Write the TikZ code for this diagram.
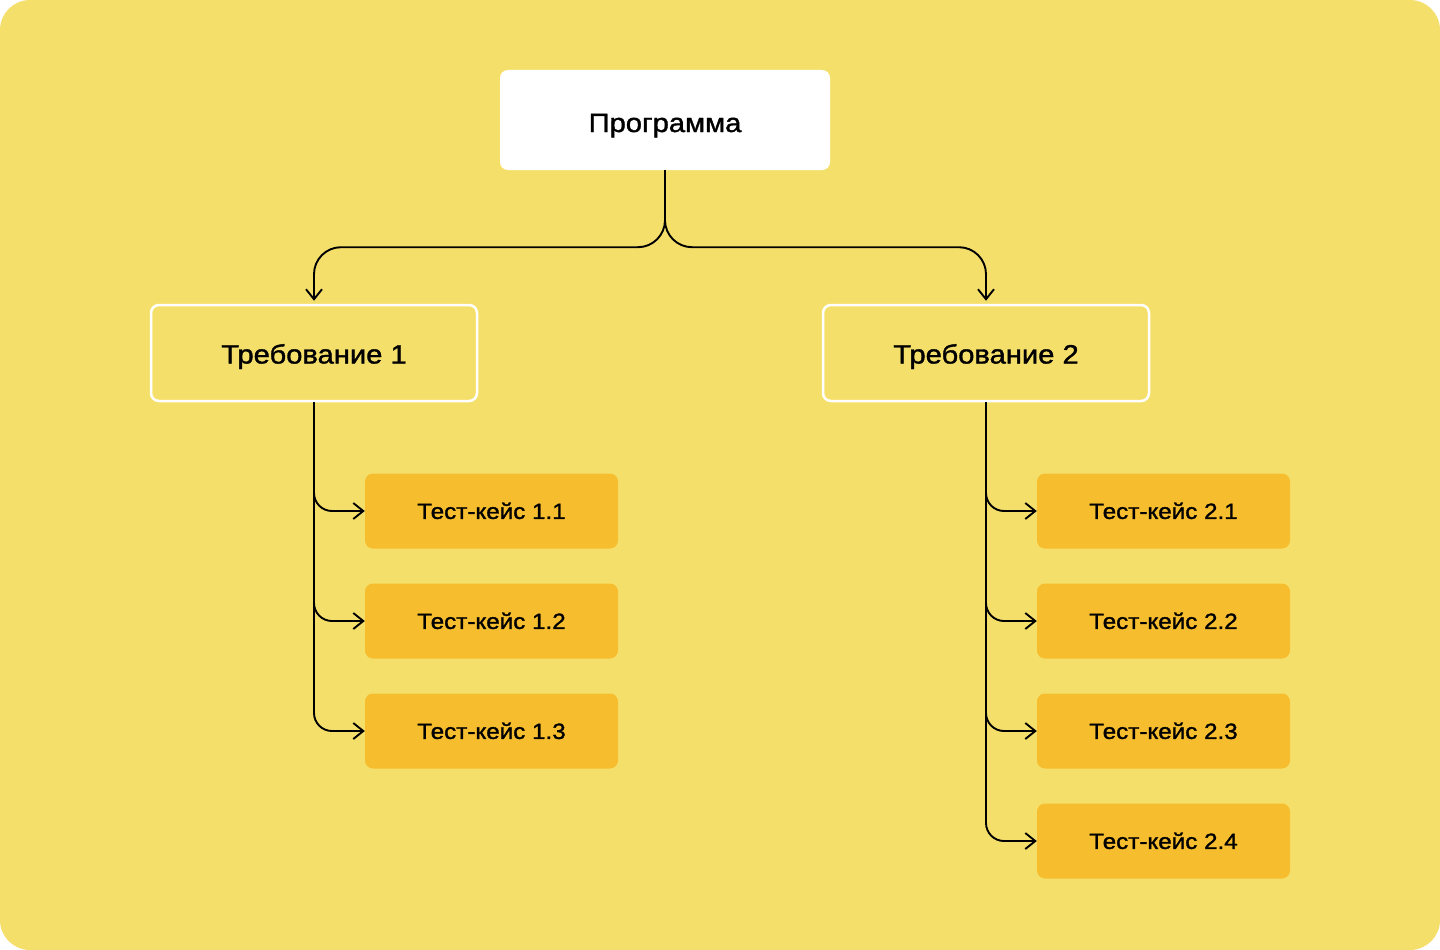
\documentclass[tikz,border=0pt]{standalone}
\usepackage{fontspec}
\setmainfont{Liberation Sans}[FakeBold=1.4, FakeStretch=1.1]
\usetikzlibrary{arrows.meta}
\definecolor{bgyellow}{RGB}{245,223,107}
\definecolor{caseorange}{RGB}{246,190,46}
\tikzset{
  prog/.style={fill=white, rounded corners=8pt, minimum width=330pt, minimum height=100pt, text height=24pt, text depth=0pt, font=\fontsize{26.5}{30}\selectfont},
  req/.style={draw=white, line width=2.5pt, rounded corners=8pt, minimum width=326pt, minimum height=96pt, text height=21pt, text depth=0pt, font=\fontsize{26.5}{30}\selectfont},
  tcase/.style={fill=caseorange, rounded corners=8pt, minimum width=253pt, minimum height=75pt, text height=15.8pt, text depth=0pt, font=\fontsize{22}{26}\selectfont},
  link/.style={line width=1.9pt, -{Straight Barb[length=10pt,width=16pt]}, rounded corners=27pt},
  caselink/.style={link, rounded corners=18pt}
}
\begin{document}
\begin{tikzpicture}[x=1pt,y=-1pt]
  \fill[white] (0,0) rectangle (1440,950);
  \fill[bgyellow, rounded corners=30pt] (0,0) rectangle (1440,950);
  \useasboundingbox (0,0) rectangle (1440,950);
  \node[prog] (prog) at (665,120) {Программа};
  \node[req] (req1) at (314,353) {Требование 1};
  \node[req] (req2) at (986,353) {Требование 2};
  \draw[link, shorten >=3pt] (prog.south) -- ++(0,77) -| (req1.north);
  \draw[link, shorten >=3pt] (prog.south) -- ++(0,77) -| (req2.north);
  \foreach \i/\y in {1/511,2/621,3/731}{
    \node[tcase] (t1\i) at (491.5,\y) {Тест-кейс 1.\i};
    \draw[caselink] (req1.south) |- (t1\i.west);
  }
  \foreach \i/\y in {1/511,2/621,3/731,4/841}{
    \node[tcase] (t2\i) at (1163.5,\y) {Тест-кейс 2.\i};
    \draw[caselink] (req2.south) |- (t2\i.west);
  }
\end{tikzpicture}
\end{document}
